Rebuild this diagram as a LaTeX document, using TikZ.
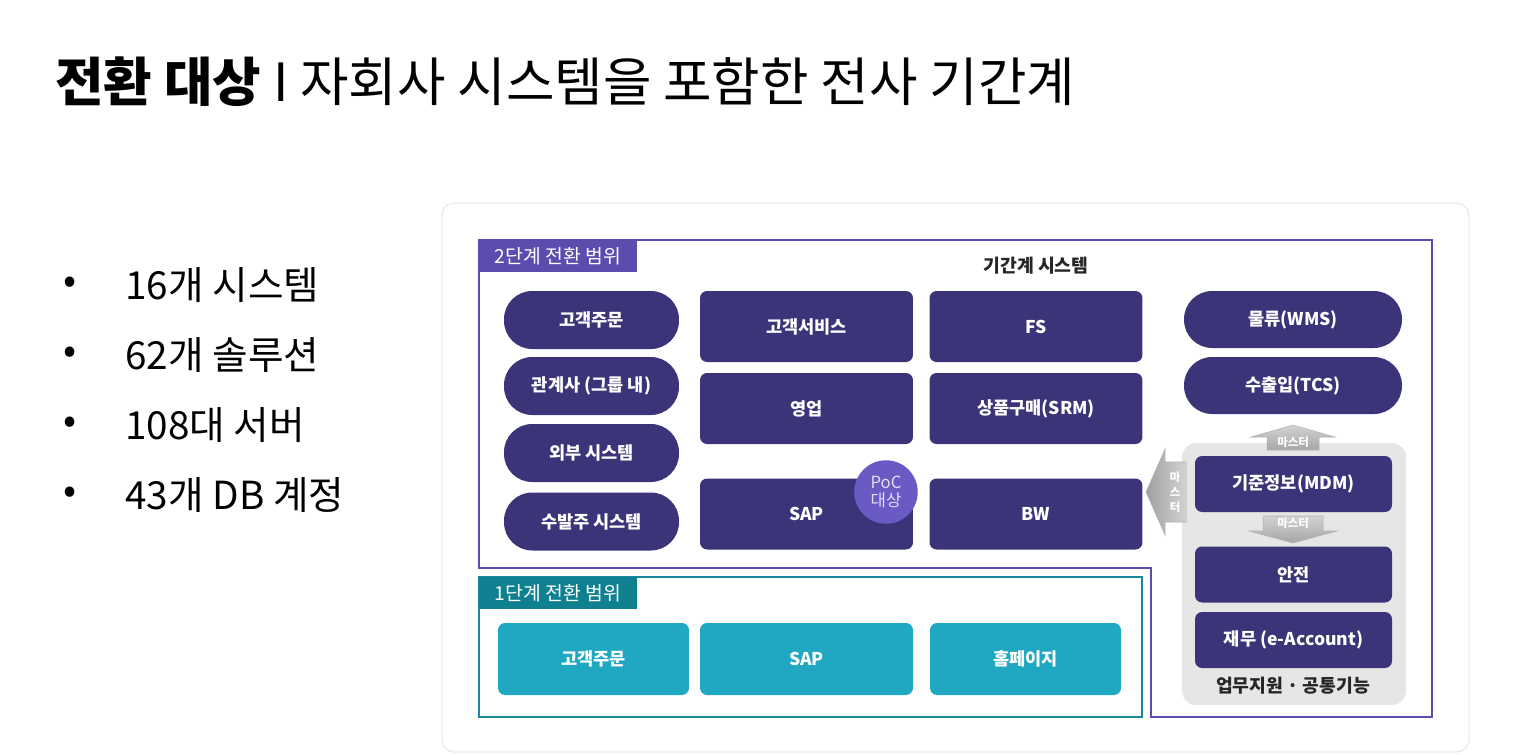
\documentclass[tikz,border=0pt]{standalone}
\usepackage{fontspec}
\setmainfont{Noto Sans CJK KR}
\definecolor{navybox}{HTML}{3C3479}
\definecolor{stagetwo}{HTML}{5A4DAE}
\definecolor{stageone}{HTML}{17899A}
\definecolor{stageonetab}{HTML}{0F808F}
\definecolor{tealfill}{HTML}{20A8C3}
\definecolor{pocfill}{HTML}{6A5BC4}
\definecolor{poctext}{HTML}{E2DEF7}
\definecolor{panelgray}{HTML}{E6E6E6}
\begin{document}
\begin{tikzpicture}[x=0.02cm, y=-0.02cm,
  pill/.style={fill=navybox, text=white, font=\bfseries\fontsize{10}{11}\selectfont, rounded corners=16pt, minimum width=3.5cm, minimum height=1.16cm},
  sysbox/.style={fill=navybox, text=white, font=\bfseries\fontsize{10}{11}\selectfont, rounded corners=4pt, minimum width=4.26cm, minimum height=1.42cm},
  supbox/.style={sysbox, minimum width=3.94cm, minimum height=1.12cm},
  tealbox/.style={fill=tealfill, text=white, font=\bfseries\fontsize{10}{11}\selectfont, rounded corners=4pt, minimum width=3.82cm, minimum height=1.44cm},
  tab/.style={text=white, font=\fontsize{11}{12}\selectfont, minimum width=3.16cm, minimum height=0.64cm, inner sep=0pt},
  tag/.style={text=white, font=\bfseries\fontsize{6.5}{8.5}\selectfont, inner sep=0pt, align=center},
  masterarrow/.style={draw=gray!60, line width=0.3pt}]
  \useasboundingbox (0,0) rectangle (1537,754);

  % Title and bullet list
  \node[anchor=west, inner sep=0pt, font=\fontsize{30}{34}\selectfont] (title) at (55,82) {\textbf{전환 대상} I 자회사 시스템을 포함한 전사 기간계};
  \foreach \y/\txt [count=\i] in {285/16개 시스템, 355/62개 솔루션, 425/108대 서버, 495/43개 DB 계정} {
    \node[font=\fontsize{22}{24}\selectfont] (dot\i) at (70,\y) {•};
    \node[anchor=west, inner sep=0pt, font=\fontsize{22}{24}\selectfont] (item\i) at (125,\y) {\txt};
  }

  % Card behind the diagram
  \draw[draw=black!8, line width=0.8pt, rounded corners=7pt] (442,203) rectangle (1469,752);

  % Stage 2 frame
  \draw[stagetwo, line width=1.1pt] (479,240) -- (1432,240) -- (1432,717) -- (1151,717) -- (1151,568) -- (479,568) -- cycle;
  \node[tab, fill=stagetwo] (tabtwo) at (558,256) {2단계 전환 범위};
  \node[font=\bfseries\fontsize{10.4}{12}\selectfont, text=black!85] (coretitle) at (1036,266) {기간계 시스템};

  % Stage 1 frame
  \draw[stageone, line width=1.1pt] (479,577) rectangle (1142,717);
  \node[tab, fill=stageonetab] (tabone) at (558,593) {1단계 전환 범위};

  % Left column
  \node[pill] (order) at (591.5,320) {고객주문};
  \node[pill] (affil) at (591.5,386) {관계사 (그룹 내)};
  \node[pill] (extsys) at (591.5,453) {외부 시스템};
  \node[pill] (procure) at (591.5,521.5) {수발주 시스템};

  % Core systems
  \node[sysbox] (service) at (806.5,326.5) {고객서비스};
  \node[sysbox] (sales) at (806.5,408.5) {영업};
  \node[sysbox] (sap) at (806.5,514) {SAP};
  \node[sysbox] (fs) at (1036,326.5) {FS};
  \node[sysbox] (srm) at (1036,408.5) {상품구매(SRM)};
  \node[sysbox] (bw) at (1036,514) {BW};

  % Right column
  \node[pill, minimum width=4.36cm, minimum height=1.14cm] (wms) at (1293,319.5) {물류(WMS)};
  \node[pill, minimum width=4.36cm, minimum height=1.14cm] (tcs) at (1293,385.5) {수출입(TCS)};

  % Support and common functions
  \fill[panelgray, rounded corners=8pt] (1182,443) rectangle (1406,705);
  \node[supbox] (mdm) at (1293.5,484) {기준정보(MDM)};
  \node[supbox] (safety) at (1293.5,574.5) {안전};
  \node[supbox] (finance) at (1293.5,640) {재무 (e-Account)};
  \node[font=\bfseries\fontsize{10.4}{12}\selectfont, text=black!85] (suplabel) at (1293,686) {업무지원 · 공통기능};

  % Master data arrows
  \draw[masterarrow, top color=gray!35, bottom color=gray!70] (1267,450) -- (1267,437) -- (1251,437) -- (1293,425) -- (1335,437) -- (1319,437) -- (1319,450) -- cycle;
  \node[tag] (uptag) at (1293,442) {마스터};
  \draw[masterarrow, top color=gray!35, bottom color=gray!70] (1263,516) -- (1323,516) -- (1323,531) -- (1337,531) -- (1293,543) -- (1249,531) -- (1263,531) -- cycle;
  \node[tag] (downtag) at (1293,523) {마스터};
  \draw[masterarrow, left color=gray!75, right color=gray!35] (1186,462) -- (1186,522) -- (1165,522) -- (1165,535) -- (1146,492) -- (1165,449) -- (1165,462) -- cycle;
  \node[tag] (sidetag) at (1175,492) {마\\스\\터};

  % Stage 1 systems
  \node[tealbox] (orderone) at (593.5,659) {고객주문};
  \node[tealbox, minimum width=4.26cm] (sapone) at (806.5,659) {SAP};
  \node[tealbox] (homepage) at (1025.5,659) {홈페이지};

  % PoC badge on SAP
  \node[circle, fill=pocfill, minimum size=1.27cm, inner sep=0pt, text=poctext, font=\fontsize{9.5}{10.5}\selectfont, align=center] (poc) at (886,492) {PoC\\대상};
\end{tikzpicture}
\end{document}
